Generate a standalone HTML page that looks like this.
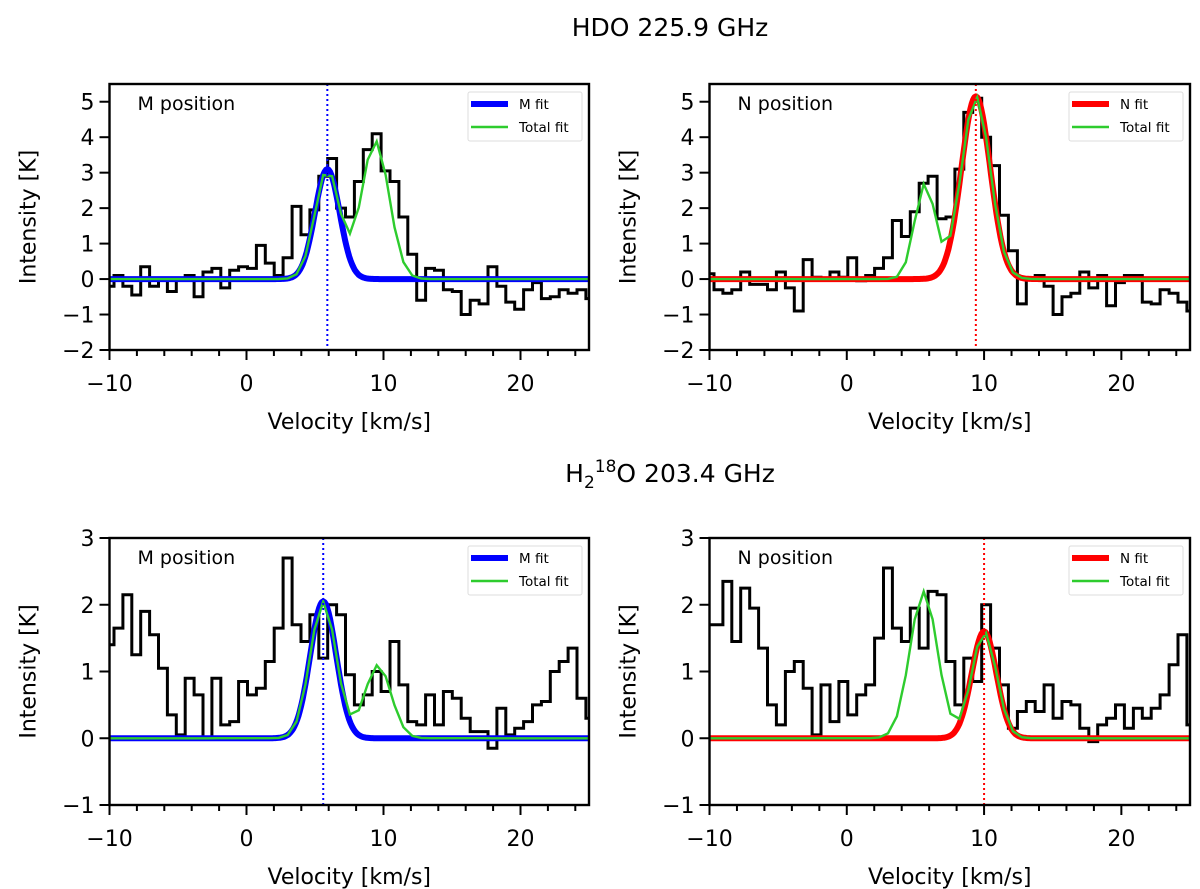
<!DOCTYPE html>
<html><head><meta charset="utf-8"><style>
html,body{margin:0;padding:0;background:#fff;}
svg{display:block;font-family:"DejaVu Sans","Liberation Sans",sans-serif;}
</style></head><body>
<svg id="fig" width="1200" height="889" viewBox="0 0 1200 889" xmlns="http://www.w3.org/2000/svg">
<text x="670" y="36" font-size="25" text-anchor="middle">HDO 225.9 GHz</text>
<text x="670" y="482" font-size="25" text-anchor="middle">H<tspan font-size="17" dy="6">2</tspan><tspan font-size="17" dy="-16">18</tspan><tspan dy="10">O 203.4 GHz</tspan></text>
</svg>
<script>
// shared channel grid
const chanStart = -10;
const chanWidth = 0.65;
const xTicks = [-10, 0, 10, 20];
const xTickLabels = ["\u221210", "0", "10", "20"];
const yTicksTop = [-2, -1, 0, 1, 2, 3, 4, 5];
const yTicksBot = [-1, 0, 1, 2, 3];

// HDO M position
const hdoM = [-0.2,0.1,-0.2,-0.45,0.35,-0.2,0.0,-0.35,0.0,0.1,-0.5,0.2,0.3,-0.25,0.25,0.35,0.3,0.95,0.45,0.1,0.6,2.05,1.25,1.95,2.9,3.4,2.0,1.75,2.75,3.65,4.1,3.05,2.75,1.75,0.7,-0.6,0.3,0.25,-0.3,-0.35,-1.0,-0.6,-0.7,0.35,-0.2,-0.65,-0.85,-0.3,-0.1,-0.55,-0.5,-0.3,-0.4,-0.3,-0.55];
// HDO N position
const hdoN = [0.15,-0.3,-0.4,-0.3,0.2,-0.15,-0.15,-0.3,0.2,-0.25,-0.9,0.55,0.05,0.0,0.2,0.05,0.6,-0.05,0.1,0.3,0.6,1.65,1.2,1.9,2.7,2.9,1.7,1.75,3.1,4.7,5.1,4.0,3.2,1.8,0.8,-0.7,0.0,0.1,-0.2,-1.0,-0.5,-0.4,0.2,-0.25,0.1,-0.75,-0.1,0.1,0.1,-0.65,-0.7,-0.3,-0.4,-0.65,-0.9];
// H2-18O M position
const h2oM = [1.4,1.65,2.15,1.25,1.9,1.55,1.05,0.35,0.05,0.9,0.65,0.0,0.9,0.2,0.25,0.85,0.65,0.75,1.15,1.65,2.7,1.7,1.45,1.85,1.2,2.0,1.85,0.95,0.5,0.65,1.0,0.7,1.45,0.8,0.25,0.2,0.65,0.2,0.7,0.6,0.3,0.1,0.1,-0.15,0.45,0.05,0.15,0.25,0.5,0.55,1.0,1.15,1.35,0.6,0.3];
// H2-18O N position
const h2oN = [1.7,1.7,2.35,1.45,2.25,1.95,1.35,0.5,0.2,1.0,1.15,0.75,0.05,0.8,0.25,0.85,0.35,0.65,0.8,1.5,2.55,1.65,1.45,1.95,1.35,2.2,2.15,1.15,0.5,1.2,0.85,2.0,1.35,0.8,0.15,0.4,0.55,0.4,0.8,0.3,0.55,0.5,0.15,-0.05,0.2,0.3,0.5,0.15,0.45,0.3,0.45,0.65,1.1,1.55,0.2];

// gaussian fit parameters: [amp, center, sigma]
const fitMainTL = [3.1, 5.9, 0.9];
const fitOtherTL = [3.9, 9.4, 1.0];
const fitMainTR = [5.15, 9.4, 1.05];
const fitOtherTR = [2.7, 5.7, 0.75];
const fitMainBL = [2.05, 5.6, 0.95];
const fitOtherBL = [1.1, 9.6, 0.95];
const fitMainBR = [1.6, 10.0, 0.9];
const fitOtherBR = [2.2, 5.6, 1.0];

const NS = "http://www.w3.org/2000/svg";
const svg = document.getElementById("fig");
function mk(tag, attrs, parent) {
  const e = document.createElementNS(NS, tag);
  for (const k in attrs) e.setAttribute(k, attrs[k]);
  (parent || svg).appendChild(e);
  return e;
}
function gauss(p, v) { return p[0] * Math.exp(-0.5 * Math.pow((v - p[1]) / p[2], 2)); }

function panel(id, box, ymin, ymax, yTicks, data, fitMain, fitOther, color, label, fitName) {
  const [L, T, R, B] = box;
  const xs = v => L + (v - (-10)) / 35 * (R - L);
  const ys = y => B - (y - ymin) / (ymax - ymin) * (B - T);
  const g = mk("g", {});
  
  
  const cid = id + "-clip";
  const cp = mk("clipPath", {id: cid}, g);
  mk("rect", {x: L, y: T, width: R - L, height: B - T}, cp);
  const plot = mk("g", {"clip-path": "url(#" + cid + ")"}, g);
  let d = "";
  data.forEach((y, i) => {
    const c = chanStart + i * chanWidth;
    const x0 = xs(c - chanWidth / 2), x1 = xs(c + chanWidth / 2);
    d += (i === 0 ? "M" : "L") + x0.toFixed(1) + "," + ys(y).toFixed(1) + "L" + x1.toFixed(1) + "," + ys(y).toFixed(1);
  });
  const sp = mk("path", {d: d, fill: "none", stroke: "#000", "stroke-width": 3}, plot);
  
  
  let dm = "", dt = "";
  for (let v = -10.5, k = 0; v <= 25.6; v += 0.1, k++) {
    dm += (k ? "L" : "M") + xs(v).toFixed(1) + "," + ys(gauss(fitMain, v)).toFixed(1);
  }
  for (let i = 0; i < data.length; i++) {
    const v = chanStart + i * chanWidth;
    const yt = gauss(fitMain, v) + gauss(fitOther, v);
    dt += (i ? "L" : "M") + xs(v).toFixed(1) + "," + ys(yt).toFixed(1);
  }
  const fm = mk("path", {d: dm, fill: "none", stroke: color, "stroke-width": 6, "stroke-linejoin": "round"}, plot);
  
  
  const ft = mk("path", {d: dt, fill: "none", stroke: "#2ecc2e", "stroke-width": 2.4}, plot);
  
  
  const vl = mk("line", {x1: xs(fitMain[1]), x2: xs(fitMain[1]), y1: T, y2: B, stroke: color, "stroke-width": 2, "stroke-dasharray": "2,3"}, plot);
  
  
  mk("rect", {x: L, y: T, width: R - L, height: B - T, fill: "none", stroke: "#000", "stroke-width": 2.4}, g);
  for (let v = -10; v <= 25; v += 2) {
    const major = xTicks.includes(v);
    mk("line", {x1: xs(v), x2: xs(v), y1: B, y2: B + (major ? 10 : 6), stroke: "#000", "stroke-width": 2}, g);
  }
  xTicks.forEach((v, i) => {
    const t = mk("text", {x: xs(v), y: B + 41, "font-size": 22, "text-anchor": "middle"}, g);
    t.textContent = xTickLabels[i];
    
    
  });
  yTicks.forEach(v => {
    mk("line", {x1: L - 10, x2: L, y1: ys(v), y2: ys(v), stroke: "#000", "stroke-width": 2}, g);
    const t = mk("text", {x: L - 15, y: ys(v) + 8, "font-size": 22, "text-anchor": "end"}, g);
    t.textContent = v < 0 ? "\u2212" + (-v) : String(v);
    
    
  });
  const xl = mk("text", {x: (L + R) / 2, y: B + 79, "font-size": 22, "text-anchor": "middle"}, g);
  xl.textContent = "Velocity [km/s]";
  
  
  const yl = mk("text", {x: 0, y: 0, "font-size": 22, "text-anchor": "middle", transform: "translate(" + (L - 74) + "," + ((T + B) / 2) + ") rotate(-90)"}, g);
  yl.textContent = "Intensity [K]";
  
  
  const pl = mk("text", {x: L + 28, y: T + 26, "font-size": 19}, g);
  pl.textContent = label;
  
  
  const lg = mk("g", {}, g);
  
  
  mk("rect", {x: R - 121, y: T + 8, width: 114, height: 49, fill: "#fff", stroke: "#ddd", "stroke-width": 1, rx: 2}, lg);
  mk("line", {x1: R - 118, x2: R - 81, y1: T + 20, y2: T + 20, stroke: color, "stroke-width": 6}, lg);
  mk("line", {x1: R - 118, x2: R - 81, y1: T + 43, y2: T + 43, stroke: "#2ecc2e", "stroke-width": 2.4}, lg);
  const l1 = mk("text", {x: R - 70, y: T + 25, "font-size": 13.5}, lg);
  l1.textContent = fitName;
  
  
  const l2 = mk("text", {x: R - 70, y: T + 48, "font-size": 13.5}, lg);
  l2.textContent = "Total fit";
  
  
}

panel("hdo-m", [109.5, 84, 589, 350], -2, 5.5, yTicksTop, hdoM, fitMainTL, fitOtherTL, "#0000ff", "M position", "M fit");
panel("hdo-n", [709.5, 84, 1190, 350], -2, 5.5, yTicksTop, hdoN, fitMainTR, fitOtherTR, "#ff0000", "N position", "N fit");
panel("h2o-m", [109.5, 538, 589, 805], -1, 3, yTicksBot, h2oM, fitMainBL, fitOtherBL, "#0000ff", "M position", "M fit");
panel("h2o-n", [709.5, 538, 1190, 805], -1, 3, yTicksBot, h2oN, fitMainBR, fitOtherBR, "#ff0000", "N position", "N fit");
</script>
</body></html>
